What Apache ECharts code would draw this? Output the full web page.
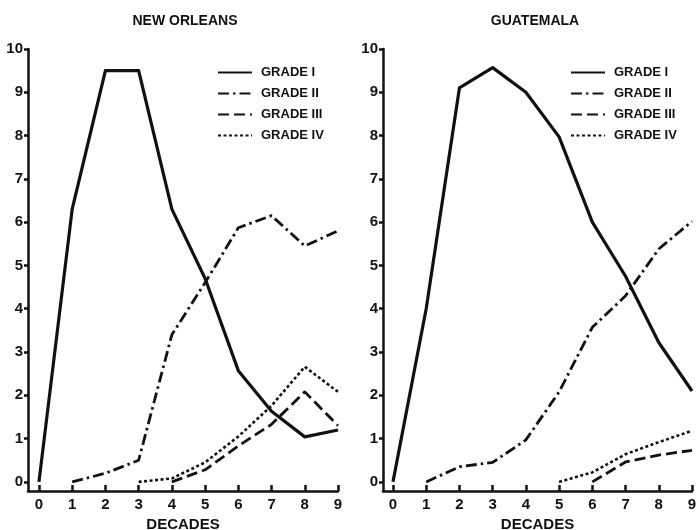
<!DOCTYPE html>
<html>
<head>
<meta charset="utf-8">
<script src="https://cdn.jsdelivr.net/npm/echarts@6/dist/echarts.min.js"></script>
<style>
  html, body { margin: 0; padding: 0; background: #fff; }
  #chart { width: 696px; height: 530px; }
</style>
</head>
<body>
<div id="chart"></div>
<script>
// ---- data ----
const decades = [0, 1, 2, 3, 4, 5, 6, 7, 8, 9];
const yTicks = [0, 1, 2, 3, 4, 5, 6, 7, 8, 9, 10];
const gradeNames = ['GRADE I', 'GRADE II', 'GRADE III', 'GRADE IV'];

// New Orleans (null = no point)
const noGrade1 = [0, 6.3, 9.5, 9.5, 6.3, 4.7, 2.57, 1.63, 1.04, 1.2];
const noGrade2 = [null, 0, 0.2, 0.5, 3.4, 4.6, 5.87, 6.15, 5.45, 5.8];
const noGrade3 = [null, null, null, null, 0, 0.28, 0.83, 1.33, 2.08, 1.3];
const noGrade4 = [null, null, null, 0, 0.08, 0.45, 1.05, 1.76, 2.66, 2.08];

// Guatemala
const guGrade1 = [0, 4.0, 9.1, 9.57, 9.0, 7.97, 6.0, 4.75, 3.22, 2.1];
const guGrade2 = [null, 0, 0.35, 0.45, 0.97, 2.08, 3.57, 4.3, 5.38, 6.02];
const guGrade3 = [null, null, null, null, null, null, 0, 0.46, 0.62, 0.73];
const guGrade4 = [null, null, null, null, null, 0, 0.22, 0.64, 0.92, 1.18];

// ---- styles ----
const FONT = 'Liberation Sans';
const INK = '#111';
const lineStyles = [
    { width: 3.2, type: 'solid' },
    { width: 2.8, type: [11, 4, 2.5, 4] },
    { width: 2.8, type: [11, 5] },
    { width: 2.6, type: [3, 2.5] }
];

const chartDom = document.getElementById('chart');
const myChart = echarts.init(chartDom);

function pairs(vals) {
    return decades.map((d, i) => [d, vals[i]]).filter(p => p[1] !== null);
}

function makeSeries(valsList, idx) {
    return valsList.map((vals, k) => ({
        name: gradeNames[k],
        type: 'line',
        xAxisIndex: idx,
        yAxisIndex: idx,
        data: pairs(vals),
        symbol: 'none',
        showSymbol: false,
        lineStyle: Object.assign({ color: INK, cap: 'butt', join: 'round' }, lineStyles[k]),
        itemStyle: { color: INK },
        silent: true,
        animation: false
    }));
}

function xAxisOf(idx, min) {
    return {
        type: 'value', gridIndex: idx, min: min, max: 9,
        name: 'DECADES', nameLocation: 'middle', nameGap: 26,
        nameTextStyle: { fontFamily: FONT, fontWeight: 'bold', fontSize: 15, color: INK },
        axisLine: { onZero: false, lineStyle: { color: INK, width: 2.5 } },
        axisTick: { inside: true, length: 6, lineStyle: { color: INK, width: 2.5 }, customValues: decades },
        axisLabel: { customValues: decades, margin: 6, fontFamily: FONT, fontWeight: 'bold', fontSize: 15, color: INK },
        splitLine: { show: false }
    };
}

function yAxisOf(idx) {
    return {
        type: 'value', gridIndex: idx, min: -0.21, max: 10,
        axisLine: { show: true, onZero: false, lineStyle: { color: INK, width: 2.5 } },
        axisTick: { show: true, length: 4, lineStyle: { color: INK, width: 2.5 }, customValues: yTicks },
        axisLabel: { customValues: yTicks, margin: 5, fontFamily: FONT, fontWeight: 'bold', fontSize: 15, color: INK },
        splitLine: { show: false }
    };
}

function legendAt(left) {
    return {
        orient: 'vertical', left: left, top: 66, padding: 0,
        itemWidth: 34, itemHeight: 10, itemGap: 8,
        data: gradeNames,
        selectedMode: false,
        itemStyle: { opacity: 0 },
        textStyle: { fontFamily: FONT, fontWeight: 'bold', fontSize: 13, color: INK, padding: [0, 0, 0, 4] }
    };
}

const option = {
    backgroundColor: '#fff',
    animation: false,
    title: [
        { text: 'NEW ORLEANS', left: 180, top: 9, textAlign: 'center',
          textStyle: { fontFamily: FONT, fontWeight: 'bold', fontSize: 14, color: INK } },
        { text: 'GUATEMALA', left: 530, top: 9, textAlign: 'center',
          textStyle: { fontFamily: FONT, fontWeight: 'bold', fontSize: 14, color: INK } }
    ],
    legend: [legendAt(217), legendAt(570)],
    grid: [
        { left: 28, top: 49, width: 310, height: 442, outerBoundsMode: 'none', containLabel: false },
        { left: 383, top: 49, width: 309, height: 442, outerBoundsMode: 'none', containLabel: false }
    ],
    xAxis: [xAxisOf(0, -0.33), xAxisOf(1, -0.3)],
    yAxis: [yAxisOf(0), yAxisOf(1)],
    series: makeSeries([noGrade1, noGrade2, noGrade3, noGrade4], 0)
        .concat(makeSeries([guGrade1, guGrade2, guGrade3, guGrade4], 1))
};
myChart.setOption(option);
</script>
</body>
</html>
